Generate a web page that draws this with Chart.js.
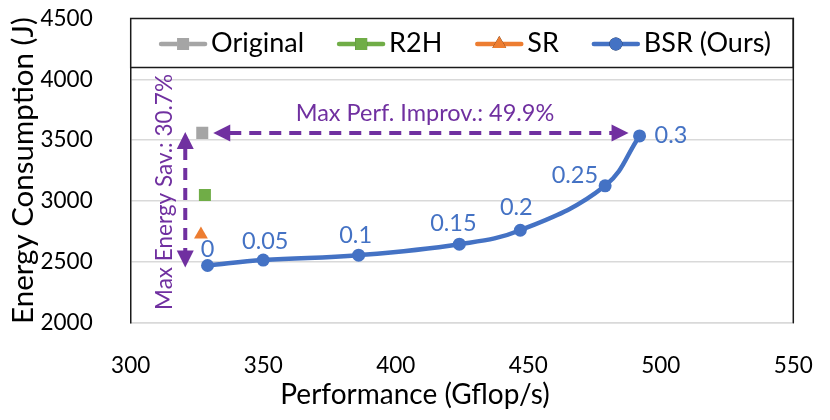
<!DOCTYPE html>
<html>
<head>
<meta charset="utf-8">
<script src="https://cdn.jsdelivr.net/npm/chart.js@4.4.1/dist/chart.umd.min.js"></script>
<style>
  html, body { margin: 0; padding: 0; background: #fff; }
  #chart { display: block; }
</style>
</head>
<body>
<canvas id="chart" width="830" height="420"></canvas>
<script>
// values
const xTicks = [300, 350, 400, 450, 500, 550];
const yTicks = [2000, 2500, 3000, 3500, 4000, 4500];
const originalPerf = [327];
const originalEnergy = [3560];
const r2hPerf = [328];
const r2hEnergy = [3050];
const srPerf = [326.5];
const srEnergy = [2725];
const bsrPerf = [329, 350, 386, 424, 447, 479, 492];
const bsrEnergy = [2470, 2515, 2555, 2645, 2760, 3125, 3535];
const bsrLabels = ['0', '0.05', '0.1', '0.15', '0.2', '0.25', '0.3'];
const seriesNames = ['Original', 'R2H', 'SR', 'BSR (Ours)'];
const xTitle = 'Performance (Gflop/s)';
const yTitle = 'Energy Consumption (J)';
const perfNote = 'Max Perf. Improv.: 49.9%';
const energyNote = 'Max Energy Sav.: 30.7%';

const FONT = 'Lato, "Open Sans", sans-serif';
const PURPLE = '#7030A0';
const BLUE = '#4472C4';

function pts(xs, ys) {
    return xs.map((x, i) => ({ x: x, y: ys[i] }));
}

// axis titles (Excel put the x title a bit left of centre)
const axisTitles = {
    id: 'axisTitles',
    afterDraw(chart) {
        const ctx = chart.ctx;
        const area = chart.chartArea;
        ctx.save();
        ctx.fillStyle = '#000';
        ctx.textAlign = 'center';
        ctx.textBaseline = 'middle';
        ctx.font = '28px ' + FONT;
        ctx.fillText(xTitle, 415, 395);
        ctx.translate(23, (area.top + area.bottom) / 2);
        ctx.rotate(-Math.PI / 2);
        ctx.font = '29.5px ' + FONT;
        ctx.fillText(yTitle, 0, 0);
        ctx.restore();
    }
};

// Excel-like legend box sitting inside the top of the plot area
const legendBox = {
    id: 'legendBox',
    afterDraw(chart) {
        const ctx = chart.ctx;
        const area = chart.chartArea;
        const top = area.top, h = 49;
        ctx.save();
        ctx.fillStyle = '#fff';
        ctx.fillRect(area.left, top, area.right - area.left, h);
        ctx.strokeStyle = '#1a1a1a';
        ctx.lineWidth = 1.5;
        ctx.strokeRect(area.left, top, area.right - area.left, h);

        ctx.font = '27px ' + FONT;
        const lineW = 48, gap = 33, textGap = 4;
        const items = chart.data.datasets.map(ds => ({
            ds: ds,
            w: lineW + textGap + ctx.measureText(ds.label).width
        }));
        const total = items.reduce((s, it) => s + it.w, 0) + gap * (items.length - 1);
        let x = (area.left + area.right) / 2 - total / 2 + 3;
        const cy = top + h / 2;
        items.forEach(it => {
            const ds = it.ds;
            ctx.strokeStyle = ds.borderColor;
            ctx.lineWidth = 4.5;
            ctx.lineCap = 'round';
            ctx.beginPath();
            ctx.moveTo(x + 2, cy + 1);
            ctx.lineTo(x + lineW - 2, cy + 1);
            ctx.stroke();
            Chart.helpers.drawPoint(ctx, {
                pointStyle: ds.pointStyle,
                radius: ds.pointRadius,
                borderWidth: 0,
                rotation: 0
            }, x + lineW / 2, cy + 1);
            ctx.fillStyle = ds.backgroundColor;
            ctx.fill();
            ctx.fillStyle = '#000';
            ctx.textAlign = 'left';
            ctx.textBaseline = 'middle';
            ctx.fillText(ds.label, x + lineW + textGap, cy);
            x += it.w + gap;
        });

        // right edge of the plot frame
        ctx.strokeStyle = '#1a1a1a';
        ctx.lineWidth = 1.5;
        ctx.beginPath();
        ctx.moveTo(area.right, area.top);
        ctx.lineTo(area.right, area.bottom);
        ctx.stroke();
        ctx.restore();
    }
};

// point labels for the BSR curve
const pointLabels = {
    id: 'pointLabels',
    afterDatasetsDraw(chart) {
        const ctx = chart.ctx;
        const meta = chart.getDatasetMeta(3);
        const place = ['above', 'above', 'above', 'above', 'above', 'left', 'right'];
        ctx.save();
        ctx.font = '23.5px ' + FONT;
        ctx.fillStyle = BLUE;
        ctx.textBaseline = 'middle';
        meta.data.forEach((p, i) => {
            let x = p.x, y = p.y;
            if (place[i] === 'above') {
                ctx.textAlign = 'center';
                x += [0, 2, -3, -6, -4][i];
                y -= [16, 19, 20, 21, 23][i];
            } else if (place[i] === 'left') {
                ctx.textAlign = 'right';
                x -= 7;
                y -= 10;
            } else {
                ctx.textAlign = 'left';
                x += 15;
            }
            ctx.fillText(bsrLabels[i], x, y);
        });
        ctx.restore();
    }
};

function arrowHead(ctx, x, y, dx, dy) {
    const len = 17, half = 8.5;
    const nx = -dy, ny = dx;
    ctx.beginPath();
    ctx.moveTo(x, y);
    ctx.lineTo(x - dx * len + nx * half, y - dy * len + ny * half);
    ctx.lineTo(x - dx * len - nx * half, y - dy * len - ny * half);
    ctx.closePath();
    ctx.fill();
}

// dashed purple double arrows with their notes
const annotations = {
    id: 'annotations',
    afterDatasetsDraw(chart) {
        const ctx = chart.ctx;
        const xs = chart.scales.x, ys = chart.scales.y;
        const ox = xs.getPixelForValue(originalPerf[0]);
        const oy = ys.getPixelForValue(originalEnergy[0]);
        const last = bsrPerf.length - 1;
        const bx = xs.getPixelForValue(bsrPerf[last]);
        const by0 = ys.getPixelForValue(bsrEnergy[0]);

        ctx.save();
        ctx.strokeStyle = PURPLE;
        ctx.fillStyle = PURPLE;
        ctx.lineWidth = 4;
        ctx.setLineDash([12, 8]);

        // horizontal: performance
        const hx1 = ox + 11, hx2 = bx - 11, hy = oy;
        ctx.beginPath();
        ctx.moveTo(hx1 + 16, hy);
        ctx.lineTo(hx2 - 16, hy);
        ctx.stroke();

        // vertical: energy
        const vx = ox - 17, vy1 = oy - 1, vy2 = by0 + 2;
        ctx.beginPath();
        ctx.moveTo(vx, vy1 + 16);
        ctx.lineTo(vx, vy2 - 16);
        ctx.stroke();

        ctx.setLineDash([]);
        arrowHead(ctx, hx1, hy, -1, 0);
        arrowHead(ctx, hx2, hy, 1, 0);
        arrowHead(ctx, vx, vy1, 0, -1);
        arrowHead(ctx, vx, vy2, 0, 1);

        ctx.textAlign = 'center';
        ctx.textBaseline = 'middle';
        ctx.font = '23.5px ' + FONT;
        ctx.fillText(perfNote, 425, hy - 19);

        ctx.font = '22.5px ' + FONT;
        ctx.translate(vx - 21, 192);
        ctx.rotate(-Math.PI / 2);
        ctx.fillText(energyNote, 0, 0);
        ctx.restore();
    }
};

new Chart(document.getElementById('chart'), {
    type: 'scatter',
    data: {
        datasets: [
            {
                label: seriesNames[0],
                data: pts(originalPerf, originalEnergy),
                borderColor: '#A5A5A5',
                backgroundColor: '#A5A5A5',
                pointStyle: 'rect',
                pointRadius: 8.5,
                pointBorderWidth: 0
            },
            {
                label: seriesNames[1],
                data: pts(r2hPerf, r2hEnergy),
                borderColor: '#70AD47',
                backgroundColor: '#70AD47',
                pointStyle: 'rect',
                pointRadius: 8.5,
                pointBorderWidth: 0
            },
            {
                label: seriesNames[2],
                data: pts(srPerf, srEnergy),
                borderColor: '#ED7D31',
                backgroundColor: '#ED7D31',
                pointStyle: 'triangle',
                pointRadius: 8,
                pointBorderWidth: 0
            },
            {
                label: seriesNames[3],
                data: pts(bsrPerf, bsrEnergy),
                borderColor: BLUE,
                backgroundColor: BLUE,
                pointStyle: 'circle',
                pointRadius: 6.5,
                pointBorderWidth: 0,
                showLine: true,
                borderWidth: 4.5,
                tension: 0.4
            }
        ]
    },
    options: {
        responsive: false,
        animation: false,
        devicePixelRatio: 1,
        layout: { padding: { left: 0, right: 36.7, top: 18.5, bottom: 0 } },
        plugins: { legend: { display: false }, tooltip: { enabled: false } },
        scales: {
            x: {
                type: 'linear',
                min: xTicks[0],
                max: xTicks[xTicks.length - 1],
                afterBuildTicks: axis => { axis.ticks = xTicks.map(v => ({ value: v })); },
                afterFit: axis => {
                    axis.height = 97.3;
                    axis.paddingLeft = 0;
                    axis.paddingRight = 0;
                },
                grid: { display: false, drawTicks: false },
                border: { color: '#D9D9D9', width: 1.5 },
                ticks: { color: '#000', font: { family: FONT, size: 22.5 }, padding: 30, callback: v => String(v) }
            },
            y: {
                type: 'linear',
                min: yTicks[0],
                max: yTicks[yTicks.length - 1],
                afterBuildTicks: axis => { axis.ticks = yTicks.map(v => ({ value: v })); },
                afterFit: axis => {
                    axis.width = 130.7;
                    axis.paddingTop = 0;
                    axis.paddingBottom = 0;
                },
                grid: { color: '#D9D9D9', lineWidth: 1.5, drawTicks: false },
                border: { color: '#1a1a1a', width: 1.5 },
                ticks: { color: '#000', font: { family: FONT, size: 22.5 }, padding: 38, callback: v => String(v) }
            }
        }
    },
    plugins: [annotations, pointLabels, legendBox, axisTitles]
});
</script>
</body>
</html>
